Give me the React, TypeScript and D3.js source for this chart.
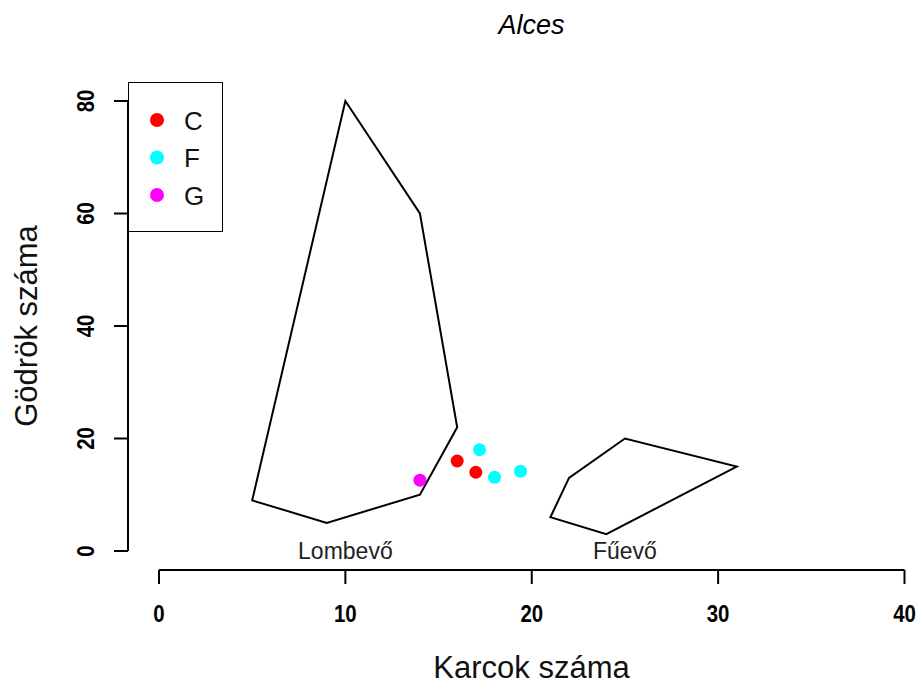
import React from "react";
import * as d3 from "d3";

const xTicks = [0, 10, 20, 30, 40];
const yTicks = [0, 20, 40, 60, 80];

const lombevoPoly: [number, number][] = [
  [10, 80], [14, 60], [16, 22], [14, 10], [9, 5], [5, 9],
];
const fuevoPoly: [number, number][] = [
  [21, 6], [22, 13], [25, 20], [31, 15], [24, 3],
];

const groupNames = ["C", "F", "G"];
const groupColors = ["#FF0000", "#00FFFF", "#FF00FF"];

const pointsX = [16, 17, 17.2, 18, 19.4, 14];
const pointsY = [16, 14, 18, 13.1, 14.2, 12.6];
const pointsGroup = ["C", "C", "F", "F", "F", "G"];

const regionLabels = ["Lombevő", "Fűevő"];
const regionLabelX = [10, 25];
const regionLabelY = [0, 0];

const W = 924;
const H = 685;
const FONT = "'Liberation Sans', Arial, Helvetica, sans-serif";

export default function App() {
  const x = d3.scaleLinear().domain([0, 40]).range([159, 904.5]);
  const y = d3.scaleLinear().domain([0, 80]).range([551, 101]);
  const color = d3.scaleOrdinal<string, string>().domain(groupNames).range(groupColors);
  const line = d3
    .line<[number, number]>()
    .x((d) => x(d[0]))
    .y((d) => y(d[1]))
    .curve(d3.curveLinearClosed);

  const axisY = 570;
  const axisX = 128;

  return (
    <svg
      width={W}
      height={H}
      style={{ position: "absolute", left: 0, top: 0, background: "#fff" }}
      fontFamily={FONT}
    >
      <rect x={0} y={0} width={W} height={H} fill="#fff" />
      {/* title */}
      <text x={531.5} y={34} textAnchor="middle" fontSize={27} fontStyle="italic" fill="#000">
        Alces
      </text>

      {/* polygons */}
      <path d={line(lombevoPoly) || ""} fill="none" stroke="#000" strokeWidth={2} strokeLinejoin="miter" />
      <path d={line(fuevoPoly) || ""} fill="none" stroke="#000" strokeWidth={2} strokeLinejoin="miter" />

      {/* region labels */}
      {regionLabels.map((t, i) => (
        <text
          key={t}
          x={x(regionLabelX[i])}
          y={y(regionLabelY[i]) + 8}
          textAnchor="middle"
          fontSize={23}
          fill="#222"
        >
          {t}
        </text>
      ))}

      {/* points */}
      {pointsX.map((px, i) => (
        <circle key={i} cx={x(px)} cy={y(pointsY[i])} r={6.5} fill={color(pointsGroup[i])} />
      ))}

      {/* x axis */}
      <line x1={x(0)} x2={x(40)} y1={axisY} y2={axisY} stroke="#000" strokeWidth={2} />
      {xTicks.map((t) => (
        <g key={t}>
          <line x1={x(t)} x2={x(t)} y1={axisY} y2={axisY + 14} stroke="#000" strokeWidth={2} />
          <text
            transform={`translate(${x(t)},622) scale(0.85,1)`}
            textAnchor="middle"
            fontSize={24}
            fontWeight="bold"
            fill="#000"
          >
            {t}
          </text>
        </g>
      ))}
      <text x={531.5} y={678} textAnchor="middle" fontSize={31} fill="#111">
        Karcok száma
      </text>

      {/* y axis */}
      <line x1={axisX} x2={axisX} y1={y(0)} y2={y(80)} stroke="#000" strokeWidth={2} />
      {yTicks.map((t) => (
        <g key={t}>
          <line x1={axisX - 14} x2={axisX} y1={y(t)} y2={y(t)} stroke="#000" strokeWidth={2} />
          <text
            transform={`translate(94,${y(t)}) rotate(-90) scale(0.85,1)`}
            textAnchor="middle"
            fontSize={24}
            fontWeight="bold"
            fill="#000"
          >
            {t}
          </text>
        </g>
      ))}
      <text transform={`translate(37,${y(40)}) rotate(-90)`} textAnchor="middle" fontSize={31} fill="#111">
        Gödrök száma
      </text>

      {/* legend */}
      <rect x={128.5} y={82.5} width={94} height={149} fill="#fff" stroke="#000" strokeWidth={1} />
      {groupNames.map((g, i) => (
        <g key={g}>
          <circle cx={157} cy={120 + i * 37.5} r={7} fill={color(g)} />
          <text x={184} y={120 + i * 37.5 + 9.5} fontSize={26} fill="#111">
            {g}
          </text>
        </g>
      ))}
    </svg>
  );
}
